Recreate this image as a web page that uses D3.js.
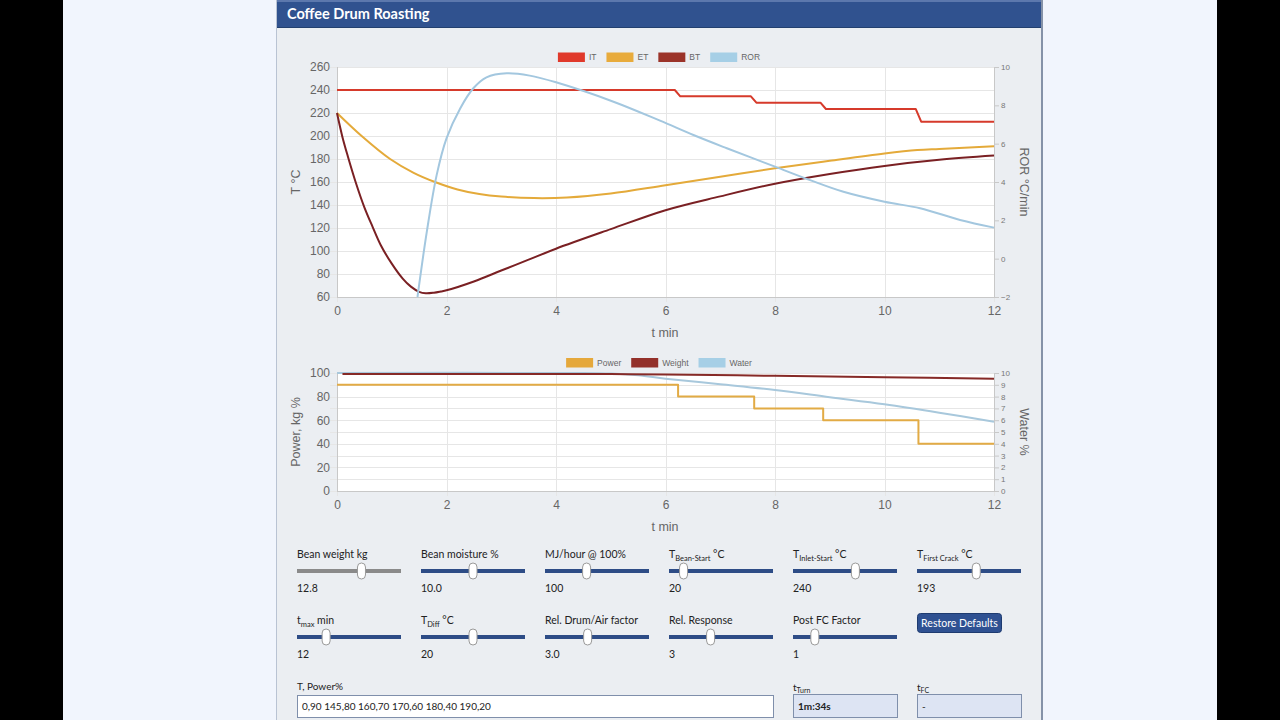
<!DOCTYPE html>
<html><head><meta charset="utf-8">
<script src="https://cdn.jsdelivr.net/npm/d3@7"></script>
<style>
html,body{margin:0;padding:0;background:#000;width:1280px;height:720px;overflow:hidden;}
svg{display:block;}
</style></head>
<body>
<svg id="c" width="1280" height="720"></svg>
<script>
// ---------- data ----------
const xTicks = [0, 2, 4, 6, 8, 10, 12];
const tempTicks = [60, 80, 100, 120, 140, 160, 180, 200, 220, 240, 260];
const rorTicks = [-2, 0, 2, 4, 6, 8, 10];
const powTicks = [0, 20, 40, 60, 80, 100];
const waterTicks = [0, 1, 2, 3, 4, 5, 6, 7, 8, 9, 10];

const itSeries = [[0,240],[6.17,240],[6.27,234.5],[7.56,234.5],[7.66,229],[8.83,229],[8.93,223.5],[10.57,223.5],[10.67,212.5],[12,212.5]];
const etSeries = [[0,220],[0.45,200],[0.97,180],[1.4,168],[1.79,160],[2.2,153.5],[2.6,149.5],[3,147.3],[3.6,146],[4.2,146.5],[5,150],[6,157.2],[7,164.5],[8,171.9],[9,178.5],[10,184.8],[10.6,187.8],[11,188.8],[12,191]];
const btSeries = [[0,220],[0.1,199],[0.2,182],[0.35,158.5],[0.5,138],[0.65,121],[0.8,105],[1.0,89],[1.2,76],[1.35,69],[1.5,64.5],[1.62,63.2],[1.77,63.7],[1.9,64.8],[2,65.8],[2.5,73.5],[3,83],[3.5,92.5],[4,102],[5,119],[6,135.5],[7,147.5],[8,158.5],[9,167],[10,174],[11,179.3],[12,183]];
const rorSeries = [[1.47,-2],[1.64,1.4],[1.82,4.36],[2,6.28],[2.25,7.84],[2.49,8.89],[2.73,9.46],[3.1,9.67],[3.52,9.55],[4,9.2],[5.05,8.19],[5.9,7.2],[6.51,6.45],[7.12,5.76],[8,4.8],[8.64,4.1],[9.25,3.49],[10,2.97],[10.65,2.63],[11.38,2.02],[12,1.62]];
const powerSeries = [[0,90],[6.23,80],[7.62,70],[8.88,60],[10.62,40],[12,40]];
const weightSeries = [[0.1,99.2],[4,99.2],[5,99.1],[6,98.7],[8,97.6],[10,96.4],[12,95.1]];
const waterSeries = [[0,10],[4.5,10],[5,9.95],[5.5,9.8],[6,9.52],[7,9.05],[8,8.56],[9,7.95],[10,7.35],[11,6.64],[12,5.87]];

const legend1 = [["IT","#e0392b"],["ET","#e8ab3c"],["BT","#9b3329"],["ROR","#a6cfe6"]];
const legend2 = [["Power","#e5a83b"],["Weight","#93302a"],["Water","#a6cfe6"]];

const sliders = [
  {label:["Bean weight kg"], value:"12.8", pos:0.62, grey:true},
  {label:["Bean moisture %"], value:"10.0", pos:0.5},
  {label:["MJ/hour @ 100%"], value:"100", pos:0.4},
  {label:["T","Bean-Start"," °C"], value:"20", pos:0.14},
  {label:["T","Inlet-Start"," °C"], value:"240", pos:0.6},
  {label:["T","First Crack"," °C"], value:"193", pos:0.57},
  {label:["t","max"," min"], value:"12", pos:0.28},
  {label:["T","Diff"," °C"], value:"20", pos:0.5},
  {label:["Rel. Drum/Air factor"], value:"3.0", pos:0.41},
  {label:["Rel. Response"], value:"3", pos:0.4},
  {label:["Post FC Factor"], value:"1", pos:0.21}
];

// ---------- page ----------
const svg = d3.select("#c");
const UI = "Lato, 'Open Sans', sans-serif";
const CH = "'Liberation Sans', Arial, sans-serif";

svg.append("rect").attr("x",63).attr("y",0).attr("width",1154).attr("height",720).attr("fill","#f1f5fd");
svg.append("rect").attr("x",276).attr("y",0).attr("width",766).attr("height",720).attr("fill","#ebeef2");
svg.append("rect").attr("x",276).attr("y",0).attr("width",766).attr("height",27).attr("fill","#30528f");
svg.append("rect").attr("x",276).attr("y",0).attr("width",766).attr("height",2).attr("fill","#5c78ad");
svg.append("line").attr("x1",276).attr("x2",1042).attr("y1",27.5).attr("y2",27.5).attr("stroke","#22406f");
svg.append("line").attr("x1",276.5).attr("x2",276.5).attr("y1",0).attr("y2",720).attr("stroke","#b9c3d3");
svg.append("line").attr("x1",1042).attr("x2",1042).attr("y1",0).attr("y2",720).attr("stroke","#8592a8").attr("stroke-width",2);
svg.append("text").attr("x",287).attr("y",19).attr("fill","#fff").attr("font-family",UI)
  .attr("font-weight","bold").attr("font-size",14.5).text("Coffee Drum Roasting");

// ---------- chart helper ----------
const x = d3.scaleLinear().domain([0,12]).range([337,994]);

function drawChart(cfg){
  const g = svg.append("g");
  const yL = cfg.yL, yR = cfg.yR;
  const top = yL.range()[1], bot = yL.range()[0];
  g.append("rect").attr("x",337).attr("y",top).attr("width",657).attr("height",bot-top).attr("fill","#fff");
  g.selectAll(null).data(cfg.hGrid).join("line")
    .attr("x1",330).attr("x2",994).attr("y1",d=>Math.round(yL(d))+0.5).attr("y2",d=>Math.round(yL(d))+0.5)
    .attr("stroke","#e6e6e6");
  g.selectAll(null).data(xTicks).join("line")
    .attr("x1",d=>Math.round(x(d))+0.5).attr("x2",d=>Math.round(x(d))+0.5).attr("y1",top).attr("y2",bot+5)
    .attr("stroke","#e6e6e6");
  g.append("line").attr("x1",337.5).attr("x2",337.5).attr("y1",top).attr("y2",bot).attr("stroke","#c8c8c8");
  g.append("line").attr("x1",994.5).attr("x2",994.5).attr("y1",top).attr("y2",bot).attr("stroke","#c8c8c8");
  g.append("line").attr("x1",337).attr("x2",994).attr("y1",bot+0.5).attr("y2",bot+0.5).attr("stroke","#c8c8c8");

  const ax = g.append("g").attr("transform",`translate(0,${bot})`)
    .call(d3.axisBottom(x).tickValues(xTicks).tickSize(0).tickPadding(9).tickFormat(d3.format("d")));
  ax.select(".domain").remove();
  ax.selectAll("text").attr("font-family",CH).attr("font-size",12).attr("fill","#666");

  const ay = g.append("g").attr("transform","translate(337,0)")
    .call(d3.axisLeft(yL).tickValues(cfg.lTicks).tickSize(0).tickPadding(7).tickFormat(d3.format("d")));
  ay.select(".domain").remove();
  ay.selectAll("text").attr("font-family",CH).attr("font-size",12).attr("fill","#666");

  const ar = g.append("g").attr("transform","translate(994,0)")
    .call(d3.axisRight(yR).tickValues(cfg.rTicks).tickSize(5).tickPadding(2).tickFormat(d3.format("d")));
  ar.select(".domain").remove();
  ar.selectAll("line").attr("stroke","#c8c8c8");
  ar.selectAll("text").attr("font-family",CH).attr("font-size",8).attr("fill","#777");

  g.append("text").attr("transform",`translate(${cfg.lTitleX},${(top+bot)/2}) rotate(-90)`)
    .attr("text-anchor","middle").attr("font-family",CH).attr("font-size",12.5).attr("fill","#666").text(cfg.lTitle);
  g.append("text").attr("transform",`translate(1020,${(top+bot)/2}) rotate(90)`)
    .attr("text-anchor","middle").attr("font-family",CH).attr("font-size",12.5).attr("fill","#666").text(cfg.rTitle);
  g.append("text").attr("x",665).attr("y",bot+40).attr("text-anchor","middle")
    .attr("font-family",CH).attr("font-size",12.5).attr("fill","#666").text("t min");

  const sg = g.append("g");
  cfg.series.forEach(s=>{
    const sy = s.axis==="r" ? yR : yL;
    sg.append("path").datum(s.data)
      .attr("fill","none").attr("stroke",s.color).attr("stroke-width",s.w||2)
      .attr("stroke-linejoin","round")
      .attr("d",d3.line().x(d=>x(d[0])).y(d=>sy(d[1])).curve(s.curve||d3.curveCatmullRom.alpha(0.5)));
  });

  const lg = g.append("g");
  let cx = 0;
  cfg.legend.forEach(([name,col])=>{
    const it = lg.append("g");
    it.append("rect").attr("x",0).attr("y",-4.5).attr("width",27).attr("height",9.5).attr("fill",col);
    const t = it.append("text").attr("x",31).attr("y",3).attr("font-family",CH).attr("font-size",8.5).attr("fill","#666").text(name);
    const w = 31 + t.node().getComputedTextLength();
    it.attr("transform",`translate(${cx},0)`);
    cx += w + 10;
  });
  const totalW = cx - 10;
  lg.attr("transform",`translate(${cfg.legendCx - totalW/2},${cfg.legendY})`);
}

drawChart({
  yL: d3.scaleLinear().domain([60,260]).range([297,67]),
  yR: d3.scaleLinear().domain([-2,10]).range([297,67]),
  hGrid: tempTicks, lTicks: tempTicks, rTicks: rorTicks,
  lTitle: "T °C", lTitleX: 300, rTitle: "ROR °C/min",
  legend: legend1, legendCx: 659, legendY: 57,
  series: [
    {data: itSeries, color:"#d63a2b", curve:d3.curveLinear},
    {data: etSeries, color:"#e4aa3a"},
    {data: btSeries, color:"#7a2023"},
    {data: rorSeries, color:"#a3c7df", axis:"r"}
  ]
});

drawChart({
  yL: d3.scaleLinear().domain([0,100]).range([491,373]),
  yR: d3.scaleLinear().domain([0,10]).range([491,373]),
  hGrid: d3.range(0,101,10), lTicks: powTicks, rTicks: waterTicks,
  lTitle: "Power, kg %", lTitleX: 300, rTitle: "Water %",
  legend: legend2, legendCx: 659, legendY: 362.5,
  series: [
    {data: waterSeries, color:"#a8c8dc", axis:"r"},
    {data: powerSeries, color:"#e2ab45", curve:d3.curveStepAfter},
    {data: weightSeries, color:"#862a27"}
  ]
});

// ---------- controls ----------
const colX = [297, 421, 545, 669, 793, 917];
const ctl = svg.append("g").attr("font-family",UI).attr("fill","#222");
sliders.forEach((s,i)=>{
  const row = i < 6 ? 0 : 1;
  const col = i < 6 ? i : i - 6;
  const x0 = colX[col];
  const yb = row === 0 ? 558 : 624;
  const t = ctl.append("text").attr("x",x0).attr("y",yb).attr("font-size",10.5).attr("fill","#222");
  if (s.label.length === 1) t.text(s.label[0]);
  else {
    t.append("tspan").text(s.label[0]);
    t.append("tspan").attr("font-size",7.5).attr("dy",2.5).text(s.label[1]);
    t.append("tspan").attr("dy",-2.5).text(s.label[2]);
  }
  const ty = yb + 13;
  ctl.append("rect").attr("x",x0).attr("y",ty-2).attr("width",104).attr("height",4)
    .attr("fill", s.grey ? "#8a8a8a" : "#2d4c86");
  ctl.append("rect").attr("x",x0 + s.pos*104 - 4).attr("y",ty-8).attr("width",8).attr("height",16).attr("rx",4)
    .attr("fill","#fff").attr("stroke","#9a9a9a").attr("stroke-width",1);
  ctl.append("text").attr("x",x0).attr("y",yb+34).attr("font-size",10.5).attr("fill","#222").text(s.value);
});

ctl.append("rect").attr("x",917.5).attr("y",613.5).attr("width",84).attr("height",19).attr("rx",3)
  .attr("fill","#2f5192").attr("stroke","#1e3b70");
ctl.append("text").attr("x",959.5).attr("y",627).attr("text-anchor","middle").attr("font-size",10.5)
  .attr("fill","#fff").text("Restore Defaults");

ctl.append("text").attr("x",297).attr("y",690).attr("font-size",10).attr("fill","#222").text("T, Power%");
ctl.append("rect").attr("x",297.5).attr("y",695.5).attr("width",476).attr("height",22)
  .attr("fill","#fff").attr("stroke","#7f8fab");
ctl.append("text").attr("x",302).attr("y",710).attr("font-size",10).attr("fill","#222")
  .text("0,90 145,80 160,70 170,60 180,40 190,20");

const tt = ctl.append("text").attr("x",793).attr("y",691).attr("font-size",10).attr("fill","#222");
tt.append("tspan").text("t");
tt.append("tspan").attr("font-size",7).attr("dy",2).text("Turn");
ctl.append("rect").attr("x",793.5).attr("y",694.5).attr("width",104).attr("height",23)
  .attr("fill","#dde4f3").attr("stroke","#7f8fab");
ctl.append("text").attr("x",798).attr("y",710).attr("font-size",10).attr("font-weight","bold").attr("fill","#222").text("1m:34s");

const tf = ctl.append("text").attr("x",917).attr("y",691).attr("font-size",10).attr("fill","#222");
tf.append("tspan").text("t");
tf.append("tspan").attr("font-size",7).attr("dy",2).text("FC");
ctl.append("rect").attr("x",917.5).attr("y",694.5).attr("width",104).attr("height",23)
  .attr("fill","#dde4f3").attr("stroke","#7f8fab");
ctl.append("text").attr("x",922).attr("y",710).attr("font-size",10).attr("fill","#222").text("-");
</script>
</body></html>
